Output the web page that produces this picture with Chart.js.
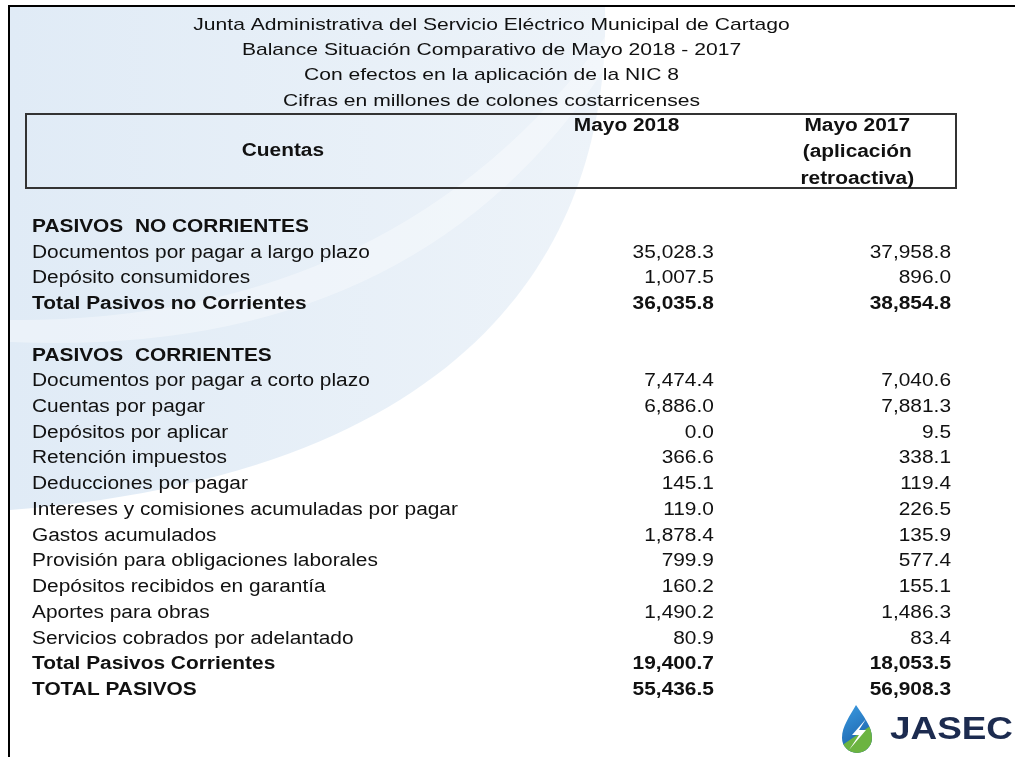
<!DOCTYPE html>
<html lang="es">
<head>
<meta charset="UTF-8">
<title>Balance Situación Comparativo JASEC</title>
<script src="https://cdn.jsdelivr.net/npm/chart.js"></script>
<style>
    body { margin: 0; padding: 0; background: #ffffff; }
    #tabla { display: block; }
</style>
</head>
<body>
<canvas id="tabla" width="1015" height="757"></canvas>
<script>
    // Datos de la tabla
    const titulos = [
        'Junta Administrativa del Servicio Eléctrico Municipal de Cartago',
        'Balance Situación Comparativo de Mayo 2018 - 2017',
        'Con efectos en la aplicación de la NIC 8',
        'Cifras en millones de colones costarricenses'
    ];
    const encabezadoCuentas = 'Cuentas';
    const encabezado2018 = ['Mayo 2018'];
    const encabezado2017 = ['Mayo 2017', '(aplicación', 'retroactiva)'];

    const cuentas = [
        'PASIVOS  NO CORRIENTES',
        'Documentos por pagar a largo plazo',
        'Depósito consumidores',
        'Total Pasivos no Corrientes',
        '',
        'PASIVOS  CORRIENTES',
        'Documentos por pagar a corto plazo',
        'Cuentas por pagar',
        'Depósitos por aplicar',
        'Retención impuestos',
        'Deducciones por pagar',
        'Intereses y comisiones acumuladas por pagar',
        'Gastos acumulados',
        'Provisión para obligaciones laborales',
        'Depósitos recibidos en garantía',
        'Aportes para obras',
        'Servicios cobrados por adelantado',
        'Total Pasivos Corrientes',
        'TOTAL PASIVOS'
    ];
    const mayo2018 = [null, 35028.3, 1007.5, 36035.8, null, null, 7474.4, 6886.0, 0.0, 366.6, 145.1,
                      119.0, 1878.4, 799.9, 160.2, 1490.2, 80.9, 19400.7, 55436.5];
    const mayo2017 = [null, 37958.8, 896.0, 38854.8, null, null, 7040.6, 7881.3, 9.5, 338.1, 119.4,
                      226.5, 135.9, 577.4, 155.1, 1486.3, 83.4, 18053.5, 56908.3];
    const filasNegrita = [0, 3, 5, 17, 18];

    // Posiciones de columnas en la escala x (0 = cuentas, 1 = borde derecho Mayo 2017)
    const COL_2018 = 0.742;
    const COL_2017 = 1;
    const FUENTE = '"Liberation Sans", Arial, sans-serif';
    const SX = 1.16; // la imagen original está estirada horizontalmente

    function formato(v) {
        return v.toLocaleString('en-US', { minimumFractionDigits: 1, maximumFractionDigits: 1 });
    }

    function texto(ctx, s, x, y, align, font, sx) {
        ctx.save();
        ctx.font = font;
        ctx.fillStyle = '#111111';
        ctx.textAlign = align;
        ctx.textBaseline = 'middle';
        ctx.translate(x, y);
        ctx.scale(sx, 1);
        ctx.fillText(s, 0, 0);
        ctx.restore();
    }

    function fondo(ctx) {
        // marca de agua azul claro
        ctx.save();
        ctx.beginPath();
        ctx.moveTo(10, 6);
        ctx.lineTo(605, 6);
        ctx.bezierCurveTo(610, 200, 520, 470, 10, 510);
        ctx.closePath();
        const g = ctx.createLinearGradient(10, 0, 600, 0);
        g.addColorStop(0, '#e0ebf6');
        g.addColorStop(1, '#edf3f9');
        ctx.fillStyle = g;
        ctx.fill();
        ctx.clip();
        ctx.beginPath();
        ctx.moveTo(10, 320);
        ctx.quadraticCurveTo(400, 322, 610, 30);
        ctx.lineTo(610, 60);
        ctx.quadraticCurveTo(420, 360, 10, 342);
        ctx.closePath();
        ctx.fillStyle = 'rgba(255,255,255,0.35)';
        ctx.fill();
        ctx.restore();

        // marco exterior
        ctx.save();
        ctx.strokeStyle = '#000000';
        ctx.lineWidth = 2;
        ctx.beginPath();
        ctx.moveTo(9, 757);
        ctx.lineTo(9, 6);
        ctx.lineTo(1015, 6);
        ctx.stroke();
        ctx.restore();
    }

    function logo(ctx) {
        ctx.save();
        ctx.beginPath();
        ctx.moveTo(856, 705);
        ctx.bezierCurveTo(850, 716, 842, 726, 842, 738);
        ctx.arc(857, 738, 15, Math.PI, 0, true);
        ctx.bezierCurveTo(872, 726, 863, 716, 856, 705);
        ctx.closePath();
        const gb = ctx.createLinearGradient(845, 705, 870, 745);
        gb.addColorStop(0, '#3a9ae0');
        gb.addColorStop(1, '#1a5fa8');
        ctx.fillStyle = gb;
        ctx.fill();
        ctx.clip();
        ctx.beginPath();
        ctx.moveTo(838, 748);
        ctx.lineTo(876, 722);
        ctx.lineTo(876, 760);
        ctx.lineTo(838, 760);
        ctx.closePath();
        ctx.fillStyle = '#6cb441';
        ctx.fill();
        ctx.restore();
        // rayo
        ctx.save();
        ctx.beginPath();
        ctx.moveTo(866, 719);
        ctx.lineTo(852, 735);
        ctx.lineTo(859, 735);
        ctx.lineTo(849, 750);
        ctx.lineTo(866, 730);
        ctx.lineTo(859, 730);
        ctx.closePath();
        ctx.fillStyle = '#ffffff';
        ctx.fill();
        ctx.restore();
        ctx.save();
        ctx.font = 'bold 31px ' + FUENTE;
        ctx.fillStyle = '#1c2b4f';
        ctx.textBaseline = 'middle';
        ctx.translate(890, 730);
        ctx.scale(1.19, 1);
        ctx.fillText('JASEC', 0, 0);
        ctx.restore();
    }

    const pluginTabla = {
        id: 'pluginTabla',
        beforeDraw(chart) {
            const ctx = chart.ctx;
            const x = chart.scales.x;
            fondo(ctx);

            // títulos
            const yTit = [25, 50, 75, 101];
            titulos.forEach((t, i) => texto(ctx, t, x.getPixelForValue(0.5), yTit[i], 'center', '17px ' + FUENTE, 1.24));

            // caja de encabezado
            ctx.save();
            ctx.strokeStyle = '#333333';
            ctx.lineWidth = 2;
            ctx.strokeRect(26, 114, 930, 74);
            ctx.restore();

            const bold = 'bold 18px ' + FUENTE;
            texto(ctx, encabezadoCuentas, x.getPixelForValue(0.273), 151, 'center', bold, SX);
            texto(ctx, encabezado2018[0], x.getPixelForValue(0.647), 126, 'center', bold, SX);
            encabezado2017.forEach((t, i) => texto(ctx, t, x.getPixelForValue(0.898), 126 + i * 26.5, 'center', bold, SX));

            logo(ctx);
        },
        afterDatasetsDraw(chart) {
            const ctx = chart.ctx;
            const y = chart.scales.y;
            const left = chart.chartArea.left;
            cuentas.forEach((c, i) => {
                if (!c) return;
                const f = (filasNegrita.includes(i) ? 'bold ' : '') + '18px ' + FUENTE;
                texto(ctx, c, left, y.getPixelForValue(i), 'left', f, SX);
            });
            chart.data.datasets.forEach((ds, di) => {
                const meta = chart.getDatasetMeta(di);
                meta.data.forEach((pt, j) => {
                    const d = ds.data[j];
                    const f = (filasNegrita.includes(d.fila) ? 'bold ' : '') + '18px ' + FUENTE;
                    texto(ctx, formato(d.v), pt.x, pt.y, 'right', f, SX);
                });
            });
        }
    };

    function puntos(valores, col) {
        const out = [];
        valores.forEach((v, i) => {
            if (v !== null) out.push({ x: col, y: cuentas[i], v: v, fila: i });
        });
        return out;
    }

    new Chart(document.getElementById('tabla'), {
        type: 'scatter',
        data: {
            labels: cuentas,
            datasets: [
                { label: 'Mayo 2018', data: puntos(mayo2018, COL_2018), pointRadius: 0 },
                { label: 'Mayo 2017', data: puntos(mayo2017, COL_2017), pointRadius: 0 }
            ]
        },
        options: {
            responsive: false,
            animation: false,
            events: [],
            layout: { padding: { left: 32, right: 1015 - 951, top: 227, bottom: 757 - 690 } },
            scales: {
                x: { type: 'linear', min: 0, max: 1, display: false },
                y: { type: 'category', labels: cuentas, offset: false, display: false }
            },
            plugins: { legend: { display: false }, tooltip: { enabled: false } }
        },
        plugins: [pluginTabla]
    });
</script>
</body>
</html>
